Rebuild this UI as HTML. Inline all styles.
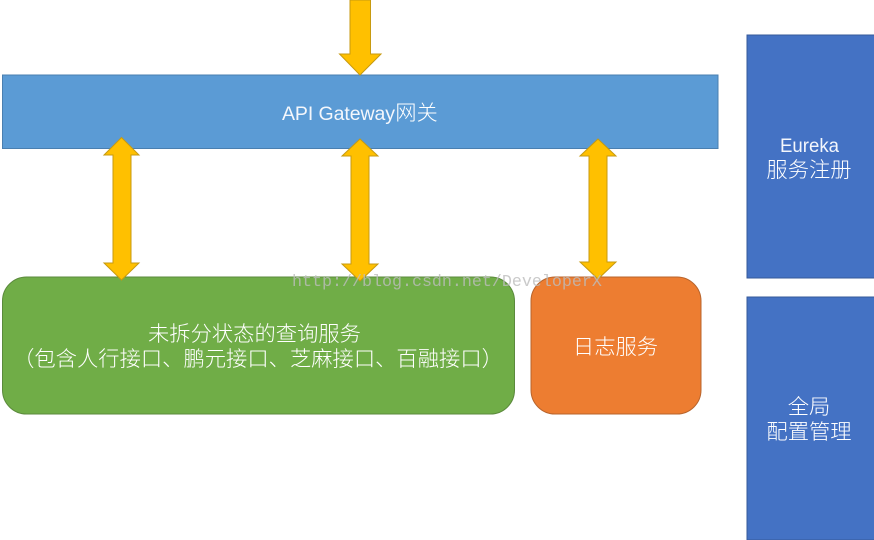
<!DOCTYPE html>
<html><head><meta charset="utf-8">
<style>
html,body{margin:0;padding:0;background:#fff;width:874px;height:540px;overflow:hidden}
svg{display:block}
text{font-family:"Liberation Sans","Noto Sans CJK SC",sans-serif;font-size:21.3px;fill:#fff;text-anchor:middle;font-weight:300}
.lat{font-size:19.5px;fill:#f4f7fc}
.wm{font-family:"Liberation Mono",monospace;font-size:16.67px;fill:#bdbdbd;fill-opacity:.8;text-anchor:start}
</style></head>
<body>
<svg width="874" height="540" viewBox="0 0 874 540" xmlns="http://www.w3.org/2000/svg">
<rect width="874" height="540" fill="#fff"/>
<rect x="2.5" y="75" width="715.5" height="73.5" fill="#5B9BD5" stroke="#4a7fb0" stroke-width="1"/>
<rect x="747" y="35" width="128" height="243" fill="#4472C4" stroke="#36599a" stroke-width="1"/>
<rect x="747" y="297" width="128" height="243" fill="#4472C4" stroke="#36599a" stroke-width="1"/>
<rect x="2.5" y="277" width="512" height="137" rx="24" ry="24" fill="#70AD47" stroke="#5b8a3c" stroke-width="1"/>
<rect x="531" y="277" width="170" height="137" rx="24" ry="24" fill="#ED7D31" stroke="#b8642c" stroke-width="1"/>
<g fill="#FFC000" stroke="#c79a10" stroke-width="1">
<polygon points="350,0 370.5,0 370.5,54 381,54 360,75 339.5,54 350,54"/>
<polygon points="121.5,137.5 139,155 131,155 131,263 139,263 121.5,280 104,263 113,263 113,155 104,155"/>
<polygon points="360,139 378,156 369,156 369,264 378,264 360,281 342,264 351,264 351,156 342,156"/>
<polygon points="598,139 616,156 607,156 607,262 616,262 598,279 580,262 589,262 589,156 580,156"/>
</g>
<text class="lat" x="282" y="120" style="text-anchor:start" textLength="113" lengthAdjust="spacing">API Gateway</text>
<text x="416.5" y="120">网关</text>
<text x="254.5" y="341">未拆分状态的查询服务</text>
<text x="258" y="366">（包含人行接口、鹏元接口、芝麻接口、百融接口）</text>
<text x="615.5" y="354">日志服务</text>
<text class="lat" x="809.5" y="152" textLength="59" lengthAdjust="spacingAndGlyphs">Eureka</text>
<text x="809" y="177">服务注册</text>
<text x="809" y="414">全局</text>
<text x="809" y="439">配置管理</text>
<text class="wm" x="292" y="286">http://blog.csdn.net/DeveloperX</text>
</svg>
</body></html>
